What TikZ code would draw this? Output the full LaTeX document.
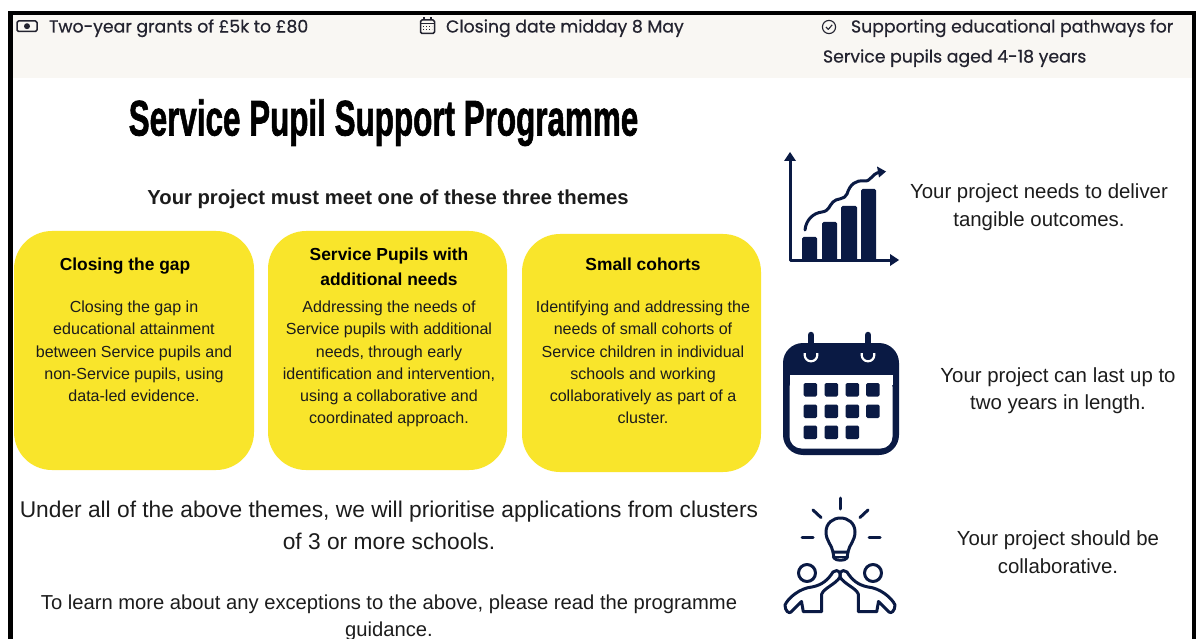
\documentclass[tikz,border=0pt]{standalone}
\usepackage{fontspec}
\setmainfont{Liberation Sans}
\newfontfamily\headfont[FakeBold=0.5]{Poppins}
\definecolor{navy}{HTML}{0A1A44}
\definecolor{band}{HTML}{F9F7F3}
\definecolor{sun}{HTML}{F9E52B}
\definecolor{ink}{HTML}{1C1C1C}
\definecolor{headink}{HTML}{23232F}
\tikzset{
  lab/.style={anchor=base,inner sep=0pt,outer sep=0pt,text=ink},
  hd/.style={anchor=base west,inner sep=0pt,outer sep=0pt,text=headink,font=\headfont\fontsize{17.3}{17.3}\selectfont},
  card/.style={fill=sun,rounded corners=38pt},
  cardtitle/.style={lab,text=black,font=\bfseries\fontsize{17.4}{17.4}\selectfont},
  cardbody/.style={lab,font=\fontsize{16.05}{16.05}\selectfont},
  bigtext/.style={lab,font=\fontsize{22.75}{22.75}\selectfont},
  midtext/.style={lab,font=\fontsize{20.2}{20.2}\selectfont},
  sidetext/.style={lab,font=\fontsize{20.4}{20.4}\selectfont},
  iconline/.style={draw=navy,line width=3pt,line cap=round,line join=round},
  smallicon/.style={draw=headink,line width=1.5pt,line join=round},
}
\begin{document}
\begin{tikzpicture}[x=1pt,y=-1pt]
\useasboundingbox (0,0) rectangle (1202,639);
\fill[white] (0,0) rectangle (1202,639);
% frame and band
\fill[band] (12,15) rectangle (1192,78);
\fill[black] (8,11) rectangle (1196,15);
\fill[black] (8,11) rectangle (12.5,639);
\fill[black] (1192,11) rectangle (1196,639);
% header icons
\draw[smallicon,rounded corners=1.5pt] (17,21) rectangle (37,31.5);
\fill[headink] (27,26.2) circle (3);
\draw[smallicon,rounded corners=1.5pt] (420.5,20) rectangle (434.5,33.5);
\draw[smallicon] (420.5,23.5) -- (434.5,23.5);
\draw[smallicon] (424,17.5) -- (424,20) (431,17.5) -- (431,20);
\draw[headink,line width=1pt,dotted] (423,27) -- (432,27) (423,30) -- (432,30);
\draw[smallicon,line width=1.1pt] (829,27) circle (6.6);
\draw[smallicon,line width=1.1pt] (826,27) -- (828.3,29.4) -- (832.2,24.8);
% header text
\node[hd] (h1) at (49,32.5) {Two-year grants of £5k to £80};
\node[hd] (h2) at (446,32.5) {Closing date midday 8 May};
\node[hd] (h3) at (851,32.5) {Supporting educational pathways for};
\node[hd] (h4) at (823,62.5) {Service pupils aged 4-18 years};
% title
\node[lab,text=black,font=\bfseries\addfontfeature{FakeBold=1.6}\fontsize{50}{50}\selectfont,xscale=.628,transform shape] (title) at (383.5,135.5) {Service Pupil Support Programme};
\node[lab,text=ink,font=\bfseries\fontsize{20.25}{20.25}\selectfont] (sub) at (388,205) {Your project must meet one of these three themes};
% cards
\fill[card] (14,231) rectangle (254,470);
\fill[card] (268,231) rectangle (507,470);
\fill[card] (522,234) rectangle (761,472);
\node[cardtitle] (c1t) at (125,270) {Closing the gap};
\node[cardbody] (c1a) at (134,312) {Closing the gap in};
\node[cardbody] (c1b) at (134,334) {educational attainment};
\node[cardbody] (c1c) at (134,357) {between Service pupils and};
\node[cardbody] (c1d) at (134,379) {non-Service pupils, using};
\node[cardbody] (c1e) at (134,401) {data-led evidence.};
\node[cardtitle] (c2t) at (389,261) {Service Pupils with};
\node[cardtitle] (c2u) at (389,285) {additional needs};
\node[cardbody] (c2a) at (389,312) {Addressing the needs of};
\node[cardbody] (c2b) at (389,334) {Service pupils with additional};
\node[cardbody] (c2c) at (389,357) {needs, through early};
\node[cardbody] (c2d) at (389,379) {identification and intervention,};
\node[cardbody] (c2e) at (389,401) {using a collaborative and};
\node[cardbody] (c2f) at (389,423) {coordinated approach.};
\node[cardtitle] (c3t) at (643,270) {Small cohorts};
\node[cardbody] (c3a) at (643,312) {Identifying and addressing the};
\node[cardbody] (c3b) at (643,334) {needs of small cohorts of};
\node[cardbody] (c3c) at (643,357) {Service children in individual};
\node[cardbody] (c3d) at (643,379) {schools and working};
\node[cardbody] (c3e) at (643,401) {collaboratively as part of a};
\node[cardbody] (c3f) at (643,423) {cluster.};
% lower text
\node[bigtext] (u1) at (389,517) {Under all of the above themes, we will prioritise applications from clusters};
\node[bigtext] (u2) at (389,549) {of 3 or more schools.};
\node[midtext] (l1) at (389,609) {To learn more about any exceptions to the above, please read the programme};
\node[midtext] (l2) at (389,636) {guidance.};
% side text
\node[sidetext] (s1) at (1039,199) {Your project needs to deliver};
\node[sidetext] (s2) at (1039,226) {tangible outcomes.};
\node[sidetext] (s3) at (1058,382) {Your project can last up to};
\node[sidetext] (s4) at (1058,409) {two years in length.};
\node[sidetext] (s5) at (1058,545) {Your project should be};
\node[sidetext] (s6) at (1058,573) {collaborative.};
% chart icon
\draw[navy,line width=3pt,line join=round] (790,158) -- (790,260) -- (893,260);
\fill[navy] (790,152) -- (796,161) -- (784,161) -- cycle;
\fill[navy] (899,260) -- (890,254) -- (890,266) -- cycle;
\fill[navy,rounded corners=1.5pt] (802,237) rectangle (817,261);
\fill[navy,rounded corners=1.5pt] (822,222) rectangle (837,261);
\fill[navy,rounded corners=1.5pt] (841,206) rectangle (857,261);
\fill[navy,rounded corners=1.5pt] (861,189) rectangle (876,261);
\draw[navy,line width=3pt,line cap=round] (805,230) .. controls (806,220) and (813,213) .. (822,212)
  .. controls (829,211) and (829,206) .. (833,202) .. controls (836,198) and (845,200) .. (847,194)
  .. controls (850,184) and (856,180) .. (864,181) .. controls (871,182) and (871,174) .. (880,172);
\fill[navy] (886,171.5) -- (877,166.5) -- (879,177.5) -- cycle;
% calendar icon
\fill[navy,rounded corners=20pt] (783,343) rectangle (899,455);
\fill[white,rounded corners=12pt] (789.5,375) -- (892.5,375) -- (892.5,448.5) -- (789.5,448.5) -- cycle;
\fill[white] (789.5,375) rectangle (892.5,385);
\foreach \xx in {803.5,824.5,845.5,866}{
  \fill[navy,rounded corners=1.5pt] (\xx,383) rectangle ++(13.5,13.5);
  \fill[navy,rounded corners=1.5pt] (\xx,404.5) rectangle ++(13.5,13.5);
}
\foreach \xx in {803.5,824.5,845.5}{
  \fill[navy,rounded corners=1.5pt] (\xx,425.5) rectangle ++(13.5,13.5);
}
\foreach \xx in {811,868}{
  \draw[white,line width=2.2pt] (\xx-6.3,353) -- (\xx-6.3,355) arc[start angle=180,end angle=0,radius=6.3] -- (\xx+6.3,353);
  \draw[navy,line width=6.5pt,line cap=round] (\xx,335) -- (\xx,355);
}
% bulb icon
\draw[iconline] (840.5,498) -- (840.5,509);
\draw[iconline] (813,510) -- (821,517.5);
\draw[iconline] (868,510) -- (860,517.5);
\draw[iconline] (802,537) -- (813,537);
\draw[iconline] (869,537) -- (880,537);
\draw[iconline] (833,552) .. controls (832,545) and (826,541) .. (826,532)
  .. controls (826,523) and (833,518) .. (840.5,518)
  .. controls (848,518) and (855,523) .. (855,532)
  .. controls (855,541) and (849,545) .. (848,552) -- cycle;
\draw[iconline,line width=2.4pt] (833,557) -- (848,557);
\draw[iconline] (833,552) -- (834,558) .. controls (836,561) and (845,561) .. (847,558) -- (848,552);
\draw[iconline] (807,573) circle (8.5);
\draw[iconline] (873,573) circle (8.5);
\draw[iconline] (821.7,611.7) -- (821.7,594) .. controls (824,588) and (836,584) .. (840,577)
  -- (840,573) .. controls (838,570) and (835,570) .. (833,572) .. controls (828,580) and (822,585) .. (812,587)
  .. controls (800,588) and (788,598) .. (785,605) .. controls (785,611) and (789,614) .. (791,612)
  -- (801.5,601.5) -- (803.3,611.7) -- cycle;
\draw[iconline] (858.3,611.7) -- (858.3,594) .. controls (856,588) and (844,584) .. (840,577)
  -- (840,573) .. controls (842,570) and (845,570) .. (847,572) .. controls (852,580) and (858,585) .. (868,587)
  .. controls (880,588) and (892,598) .. (895,605) .. controls (895,611) and (891,614) .. (889,612)
  -- (878.5,601.5) -- (876.7,611.7) -- cycle;
\end{tikzpicture}
\end{document}
